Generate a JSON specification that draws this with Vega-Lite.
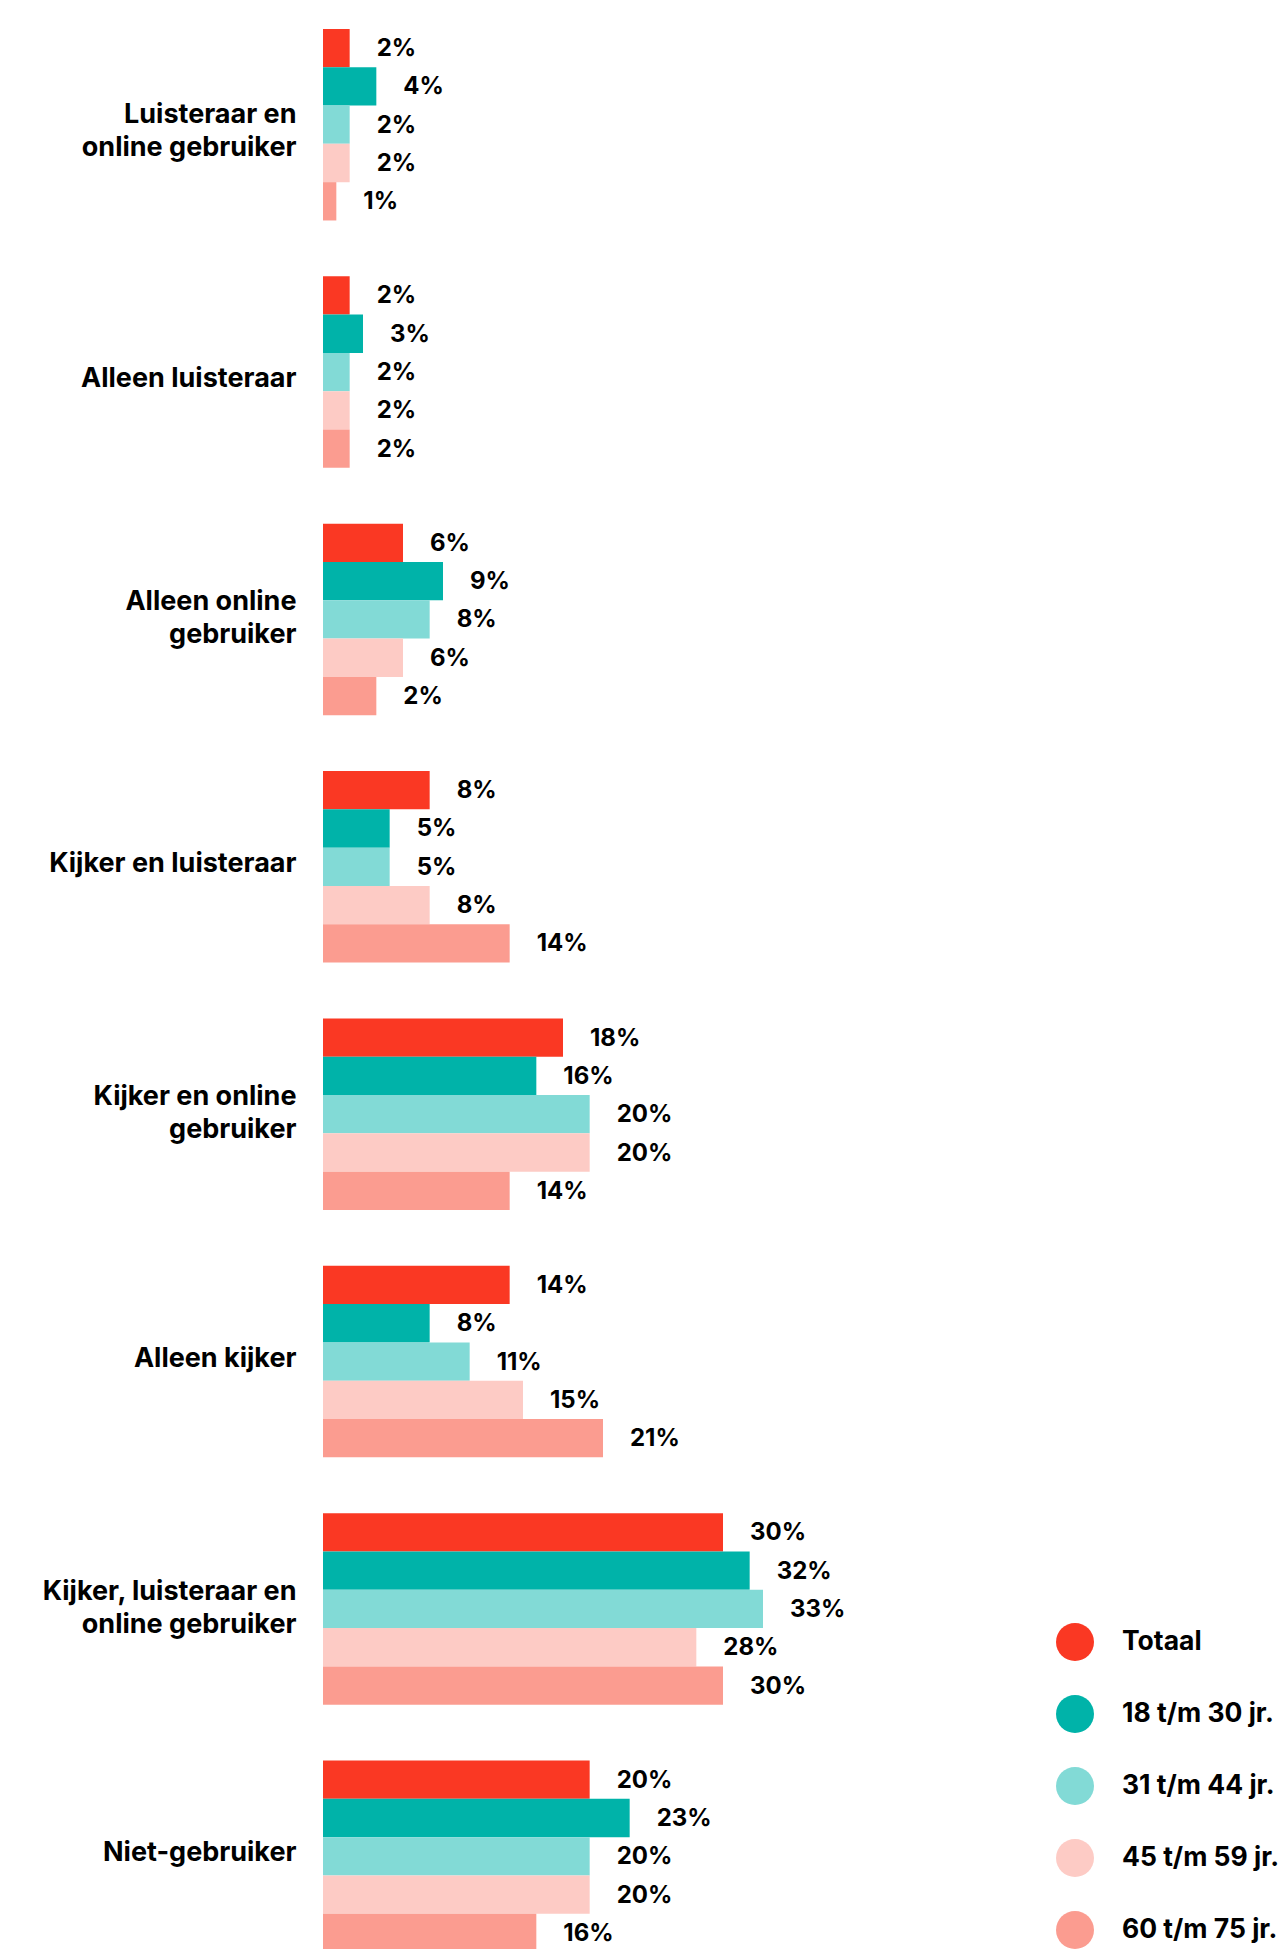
{
  "$schema": "https://vega.github.io/schema/vega-lite/v6.json",
  "autosize": {"type": "none"},
  "padding": {"left": 323, "top": 1, "right": 0, "bottom": 0},
  "width": 960,
  "height": 1979,
  "background": "white",
  "config": {"view": {"stroke": null}, "font": "Inter"},
  "data": {"values": [
    {"category": "Luisteraar en online gebruiker", "group": "Totaal", "value": 2, "label": "2%"},
    {"category": "Luisteraar en online gebruiker", "group": "18 t/m 30 jr.", "value": 4, "label": "4%"},
    {"category": "Luisteraar en online gebruiker", "group": "31 t/m 44 jr.", "value": 2, "label": "2%"},
    {"category": "Luisteraar en online gebruiker", "group": "45 t/m 59 jr.", "value": 2, "label": "2%"},
    {"category": "Luisteraar en online gebruiker", "group": "60 t/m 75 jr.", "value": 1, "label": "1%"},
    {"category": "Alleen luisteraar", "group": "Totaal", "value": 2, "label": "2%"},
    {"category": "Alleen luisteraar", "group": "18 t/m 30 jr.", "value": 3, "label": "3%"},
    {"category": "Alleen luisteraar", "group": "31 t/m 44 jr.", "value": 2, "label": "2%"},
    {"category": "Alleen luisteraar", "group": "45 t/m 59 jr.", "value": 2, "label": "2%"},
    {"category": "Alleen luisteraar", "group": "60 t/m 75 jr.", "value": 2, "label": "2%"},
    {"category": "Alleen online gebruiker", "group": "Totaal", "value": 6, "label": "6%"},
    {"category": "Alleen online gebruiker", "group": "18 t/m 30 jr.", "value": 9, "label": "9%"},
    {"category": "Alleen online gebruiker", "group": "31 t/m 44 jr.", "value": 8, "label": "8%"},
    {"category": "Alleen online gebruiker", "group": "45 t/m 59 jr.", "value": 6, "label": "6%"},
    {"category": "Alleen online gebruiker", "group": "60 t/m 75 jr.", "value": 4, "label": "2%"},
    {"category": "Kijker en luisteraar", "group": "Totaal", "value": 8, "label": "8%"},
    {"category": "Kijker en luisteraar", "group": "18 t/m 30 jr.", "value": 5, "label": "5%"},
    {"category": "Kijker en luisteraar", "group": "31 t/m 44 jr.", "value": 5, "label": "5%"},
    {"category": "Kijker en luisteraar", "group": "45 t/m 59 jr.", "value": 8, "label": "8%"},
    {"category": "Kijker en luisteraar", "group": "60 t/m 75 jr.", "value": 14, "label": "14%"},
    {"category": "Kijker en online gebruiker", "group": "Totaal", "value": 18, "label": "18%"},
    {"category": "Kijker en online gebruiker", "group": "18 t/m 30 jr.", "value": 16, "label": "16%"},
    {"category": "Kijker en online gebruiker", "group": "31 t/m 44 jr.", "value": 20, "label": "20%"},
    {"category": "Kijker en online gebruiker", "group": "45 t/m 59 jr.", "value": 20, "label": "20%"},
    {"category": "Kijker en online gebruiker", "group": "60 t/m 75 jr.", "value": 14, "label": "14%"},
    {"category": "Alleen kijker", "group": "Totaal", "value": 14, "label": "14%"},
    {"category": "Alleen kijker", "group": "18 t/m 30 jr.", "value": 8, "label": "8%"},
    {"category": "Alleen kijker", "group": "31 t/m 44 jr.", "value": 11, "label": "11%"},
    {"category": "Alleen kijker", "group": "45 t/m 59 jr.", "value": 15, "label": "15%"},
    {"category": "Alleen kijker", "group": "60 t/m 75 jr.", "value": 21, "label": "21%"},
    {"category": "Kijker, luisteraar en online gebruiker", "group": "Totaal", "value": 30, "label": "30%"},
    {"category": "Kijker, luisteraar en online gebruiker", "group": "18 t/m 30 jr.", "value": 32, "label": "32%"},
    {"category": "Kijker, luisteraar en online gebruiker", "group": "31 t/m 44 jr.", "value": 33, "label": "33%"},
    {"category": "Kijker, luisteraar en online gebruiker", "group": "45 t/m 59 jr.", "value": 28, "label": "28%"},
    {"category": "Kijker, luisteraar en online gebruiker", "group": "60 t/m 75 jr.", "value": 30, "label": "30%"},
    {"category": "Niet-gebruiker", "group": "Totaal", "value": 20, "label": "20%"},
    {"category": "Niet-gebruiker", "group": "18 t/m 30 jr.", "value": 23, "label": "23%"},
    {"category": "Niet-gebruiker", "group": "31 t/m 44 jr.", "value": 20, "label": "20%"},
    {"category": "Niet-gebruiker", "group": "45 t/m 59 jr.", "value": 20, "label": "20%"},
    {"category": "Niet-gebruiker", "group": "60 t/m 75 jr.", "value": 16, "label": "16%"}
  ]},
  "encoding": {
    "y": {
      "field": "category", "type": "nominal", "sort": null,
      "scale": {"paddingInner": 0.2256, "paddingOuter": 0.1128},
      "axis": {
        "title": null, "ticks": false, "domain": false, "labelPadding": 27,
        "labelFontSize": 27, "labelFontWeight": 700, "labelColor": "#000000",
        "labelLineHeight": 33, "labelLimit": 400, "labelAlign": "right", "labelBaseline": "middle",
        "labelOffset": {
          "condition": [
            {"test": "datum.value == 'Luisteraar en online gebruiker'", "value": -10},
            {"test": "datum.value == 'Alleen luisteraar'", "value": 7},
            {"test": "datum.value == 'Alleen online gebruiker' || datum.value == 'Kijker en online gebruiker' || datum.value == 'Kijker, luisteraar en online gebruiker'", "value": -17}
          ],
          "value": -3
        },
        "labelExpr": "datum.value == 'Luisteraar en online gebruiker' ? ['Luisteraar en', 'online gebruiker'] : datum.value == 'Alleen online gebruiker' ? ['Alleen online', 'gebruiker'] : datum.value == 'Kijker en online gebruiker' ? ['Kijker en online', 'gebruiker'] : datum.value == 'Kijker, luisteraar en online gebruiker' ? ['Kijker, luisteraar en', 'online gebruiker'] : datum.value"
      }
    },
    "yOffset": {"field": "group", "type": "nominal", "sort": null, "scale": {"paddingInner": 0, "paddingOuter": 0}},
    "x": {"field": "value", "type": "quantitative", "scale": {"domain": [0, 72], "nice": false}, "axis": null}
  },
  "layer": [
    {
      "mark": {"type": "bar"},
      "encoding": {
        "color": {
          "field": "group", "type": "nominal", "sort": null,
          "scale": {
            "domain": ["Totaal", "18 t/m 30 jr.", "31 t/m 44 jr.", "45 t/m 59 jr.", "60 t/m 75 jr."],
            "range": ["#FA3823", "#00B3A9", "#82DAD6", "#FDCBC5", "#FB9C90"]
          },
          "legend": {
            "title": null, "orient": "none", "legendX": 733, "legendY": 1622,
            "symbolType": "circle", "symbolSize": 1444, "symbolStrokeWidth": 0, "symbolOpacity": 1,
            "labelFontSize": 26.5, "labelFontWeight": 700, "labelColor": "#000000", "labelOffset": 28,
            "rowPadding": 34, "padding": 0, "labelLimit": 300
          }
        }
      }
    },
    {
      "mark": {"type": "text", "align": "left", "baseline": "middle", "dx": 27, "dy": 1, "fontSize": 24, "fontWeight": 700, "color": "#000000"},
      "encoding": {"text": {"field": "label"}}
    }
  ]
}
